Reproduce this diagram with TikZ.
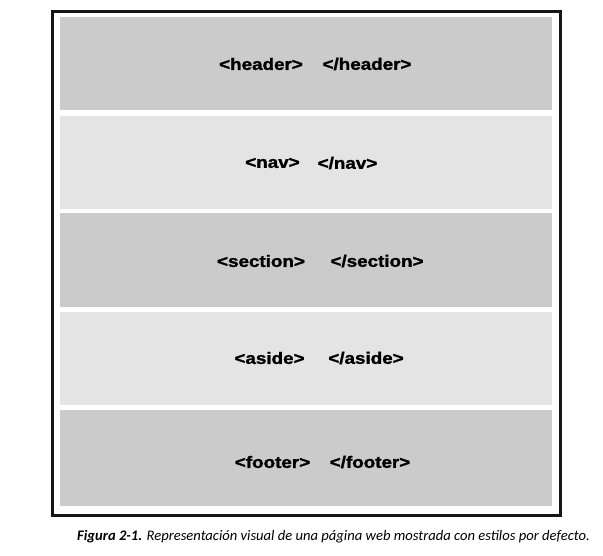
\documentclass[tikz,border=0pt]{standalone}
\usepackage{fontspec}
\setmainfont{Liberation Sans}
\newfontfamily\tagfont[FakeBold=1.4]{Liberation Sans Bold}
\newfontfamily\capfont{Carlito}
\definecolor{banddark}{HTML}{CBCBCB}
\definecolor{bandlight}{HTML}{E4E4E4}
\definecolor{framecol}{HTML}{161616}
\begin{document}
\begin{tikzpicture}[x=1pt,y=-1pt,
  band/.style={draw=none,inner sep=0pt,anchor=north west},
  darkband/.style={band,fill=banddark},
  lightband/.style={band,fill=bandlight},
  tag/.style={inner sep=0pt,font=\tagfont\fontsize{16.5}{18}\selectfont},
  caption/.style={inner sep=0pt,anchor=west,font=\capfont\fontsize{14.6}{17}\selectfont}]
  \useasboundingbox[fill=white] (0,0) rectangle (603,555);
  % page frame
  \node[draw=framecol,line width=2.6pt,fill=white,inner sep=0pt,anchor=north west,
        minimum width=508pt,minimum height=504pt] (page) at (51,10) {};
  % layout blocks
  \node[darkband,minimum width=492pt,minimum height=93pt] (header) at (60,17) {};
  \node[lightband,minimum width=492pt,minimum height=93pt] (nav) at (60,116) {};
  \node[darkband,minimum width=492pt,minimum height=94pt] (section) at (60,213) {};
  \node[lightband,minimum width=492pt,minimum height=93pt] (aside) at (60,312) {};
  \node[darkband,minimum width=492pt,minimum height=96pt] (footer) at (60,410) {};
  % element tags
  \node[tag] (hopen) at (261,64) {\scalebox{1.14}[1]{<header>}};
  \node[tag] (hclose) at (367,64) {\scalebox{1.14}[1]{</header>}};
  \node[tag] (nopen) at (272.5,163) {\scalebox{1.14}[1]{<nav>}};
  \node[tag] (nclose) at (347.5,163) {\scalebox{1.14}[1]{</nav>}};
  \node[tag] (sopen) at (261,261) {\scalebox{1.14}[1]{<section>}};
  \node[tag] (sclose) at (377,261) {\scalebox{1.14}[1]{</section>}};
  \node[tag] (aopen) at (269.5,358) {\scalebox{1.14}[1]{<aside>}};
  \node[tag] (aclose) at (366,358) {\scalebox{1.14}[1]{</aside>}};
  \node[tag] (fopen) at (272.5,462) {\scalebox{1.14}[1]{<footer>}};
  \node[tag] (fclose) at (370,462) {\scalebox{1.14}[1]{</footer>}};
  % caption
  \node[caption] (cap) at (77,537) {\textbf{\textit{Figura 2-1.}}\textit{ Representación visual de una página web mostrada con estilos por defecto.}};
\end{tikzpicture}
\end{document}
